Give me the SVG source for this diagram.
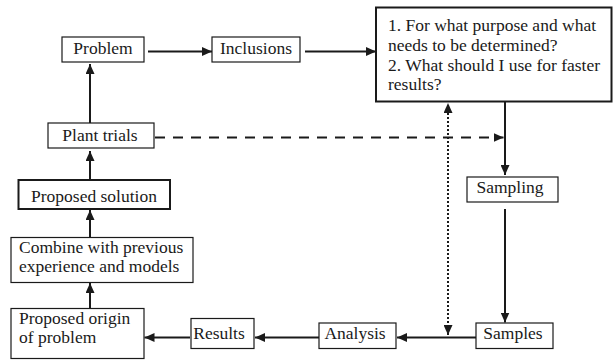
<svg xmlns="http://www.w3.org/2000/svg" width="613" height="360" viewBox="0 0 613 360">
<style>
text{font-family:"Liberation Serif","Times New Roman",serif;font-size:17.5px;fill:#1a1a1a}
.box{fill:#fff;stroke:#1a1a1a;stroke-width:1.2}
.boxb{fill:#fff;stroke:#1a1a1a;stroke-width:2}
.c{fill:none;stroke:#1a1a1a;stroke-width:2;marker-end:url(#ah)}
.m{text-anchor:middle}
</style>
<defs>
<marker id="ah" markerUnits="userSpaceOnUse" markerWidth="11" markerHeight="9" refX="10" refY="4.5" orient="auto-start-reverse">
<path d="M0,0 L10,4.5 L0,9 z" fill="#1a1a1a" stroke="none"/>
</marker>
</defs>
<rect width="613" height="360" fill="#fff"/>
<g id="connectors">
<path class="c" d="M148,51.5 H212"/>
<path class="c" d="M305,51.5 H376"/>
<path class="c" d="M90,123 V64"/>
<path class="c" d="M90,180 V151"/>
<path class="c" d="M90,237 V210"/>
<path class="c" d="M90,308 V283"/>
<path class="c" d="M190,337.5 H144.5"/>
<path class="c" d="M319,337.5 H255"/>
<path class="c" d="M476,337.5 H397"/>
<path class="c" d="M505,102 V175"/>
<path class="c" d="M505,209 V322.5"/>
<path class="c" d="M155,137.5 H503.5" stroke-dasharray="10,8"/>
<path class="c" d="M448,335 V103" stroke-dasharray="2,2" style="marker-start:url(#ah)"/>
</g>
<g id="problem"><rect class="box" x="62" y="37" width="82" height="25"/><text class="m" x="103" y="54">Problem</text></g>
<g id="inclusions"><rect class="box" x="212" y="37" width="88" height="25"/><text class="m" x="256" y="54">Inclusions</text></g>
<g id="questions"><rect class="boxb" x="376" y="7.5" width="235.5" height="94"/>
<text x="388" y="31">1. For what purpose and what</text>
<text x="388" y="51">needs to be determined?</text>
<text x="388" y="71">2. What should I use for faster</text>
<text x="388" y="90">results?</text></g>
<g id="plant-trials"><rect class="box" x="48" y="123" width="106" height="25"/><text class="m" x="100" y="141">Plant trials</text></g>
<g id="proposed-solution"><rect class="boxb" x="18.5" y="180" width="151.5" height="29"/><text class="m" x="94" y="202">Proposed solution</text></g>
<g id="combine"><rect class="box" x="11" y="237.5" width="182" height="45"/><text x="19" y="253">Combine with previous</text><text x="19" y="272">experience and models</text></g>
<g id="proposed-origin"><rect class="box" x="11" y="308.5" width="133" height="50"/><text x="19" y="324">Proposed origin</text><text x="19" y="343">of problem</text></g>
<g id="results"><rect class="box" x="191" y="318.5" width="63" height="30"/><text class="m" x="219" y="339">Results</text></g>
<g id="analysis"><rect class="box" x="319" y="323" width="77" height="25.5"/><text class="m" x="355" y="339">Analysis</text></g>
<g id="samples"><rect class="box" x="476" y="323" width="77" height="25.5"/><text class="m" x="513" y="339">Samples</text></g>
<g id="sampling"><rect class="box" x="467" y="177" width="91" height="25"/><text class="m" x="510" y="193">Sampling</text></g>
</svg>
